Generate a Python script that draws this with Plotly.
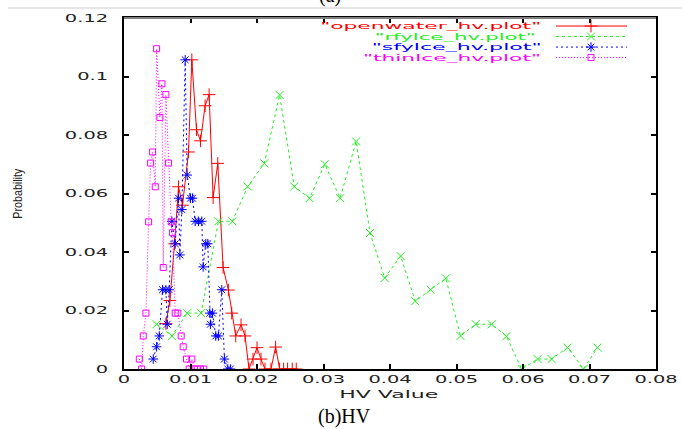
import json
import plotly.graph_objects as go

# ---- data ----
openwater_x = [0.0063, 0.0069, 0.0076, 0.0082, 0.0088, 0.0097, 0.0102, 0.0109, 0.0115, 0.0122,
               0.0128, 0.0134, 0.0141, 0.0149, 0.0157, 0.0162, 0.0168, 0.0176, 0.0182, 0.0188,
               0.0194, 0.0200, 0.0206, 0.0212, 0.0221, 0.0228, 0.0234, 0.0240, 0.0246, 0.0253, 0.0259]
openwater_y = [0.0155, 0.0234, 0.0428, 0.0623, 0.0560, 0.0742, 0.1057, 0.0818, 0.0780, 0.0900,
               0.0938, 0.0586, 0.0703, 0.0347, 0.0270, 0.0191, 0.0113, 0.0151, 0.0113, 0.0,
               0.0034, 0.0073, 0.0034, 0.0, 0.0, 0.0075, 0.0, 0.0, 0.0, 0.0, 0.0]

rfylce_x = [0.0049, 0.0072, 0.0095, 0.0116, 0.0142, 0.0163, 0.0186, 0.0211, 0.0234, 0.0256,
            0.0279, 0.0302, 0.0325, 0.0349, 0.0370, 0.0392, 0.0416, 0.0438, 0.0461, 0.0484,
            0.0506, 0.0529, 0.0553, 0.0575, 0.0598, 0.0622, 0.0643, 0.0667, 0.0691, 0.0712]
rfylce_y = [0.0153, 0.0113, 0.0191, 0.0191, 0.0505, 0.0505, 0.0624, 0.0703, 0.0937, 0.0624,
            0.0584, 0.0700, 0.0584, 0.0778, 0.0465, 0.0311, 0.0386, 0.0232, 0.0271, 0.0310,
            0.0113, 0.0153, 0.0153, 0.0112, 0.0, 0.0034, 0.0034, 0.0073, 0.0, 0.0073]

sfylce_x = [0.0044, 0.0049, 0.0053, 0.0058, 0.0063, 0.0065, 0.0068, 0.0072, 0.0077, 0.0082,
            0.0084, 0.0087, 0.0092, 0.0095, 0.0100, 0.0103, 0.0107, 0.0112, 0.0117, 0.0119,
            0.0123, 0.0126, 0.0129, 0.0130, 0.0133, 0.0138, 0.0142, 0.0147, 0.0151, 0.0156, 0.0160]
sfylce_y = [0.0034, 0.0076, 0.0113, 0.0271, 0.0271, 0.0153, 0.0271, 0.0505, 0.0428, 0.0584,
            0.0390, 0.0545, 0.1057, 0.0663, 0.0584, 0.0584, 0.0505, 0.0505, 0.0505, 0.0349,
            0.0428, 0.0428, 0.0191, 0.0153, 0.0191, 0.0113, 0.0113, 0.0271, 0.0034, 0.0, 0.0]

thinice_x = [0.0023, 0.00265, 0.0029, 0.0033, 0.0037, 0.0040, 0.0043, 0.0047, 0.0049, 0.0054,
             0.0057, 0.0059, 0.0063, 0.0067, 0.0071, 0.0073, 0.0077, 0.0081, 0.0086, 0.0089,
             0.0094, 0.0098, 0.0102, 0.0106, 0.0110, 0.0115, 0.0120]
thinice_y = [0.0034, 0.0, 0.0113, 0.0191, 0.0503, 0.0704, 0.0742, 0.0623, 0.1095, 0.0860,
             0.0975, 0.0347, 0.0938, 0.0704, 0.0503, 0.0466, 0.0191, 0.0191, 0.0113, 0.0076,
             0.0034, 0.0, 0.0034, 0.0, 0.0, 0.0, 0.0]

series_names = ['"openwater_hv.plot"', '"rfylce_hv.plot"', '"sfylce_hv.plot"', '"thinIce_hv.plot"']
series_colors = ['#ff0000', '#22ee22', '#0000ff', '#ff00ff']
series_dash = ['solid', '3px,3px', '2px,3px', '1px,2px']
series_symbol = ['cross-thin-open', 'x-thin-open', 'asterisk-open', 'square-open']
series_size = [9, 8, 8, 6]

x_ticks = [0, 0.01, 0.02, 0.03, 0.04, 0.05, 0.06, 0.07, 0.08]
x_ticktext = ['0', '0.01', '0.02', '0.03', '0.04', '0.05', '0.06', '0.07', '0.08']
y_ticks = [0, 0.02, 0.04, 0.06, 0.08, 0.10, 0.12]
y_ticktext = ['0', '0.02', '0.04', '0.06', '0.08', '0.1', '0.12']

xs = [openwater_x, rfylce_x, sfylce_x, thinice_x]
ys = [openwater_y, rfylce_y, sfylce_y, thinice_y]

fig = go.Figure()
for i in range(4):
    fig.add_trace(go.Scatter(
        x=xs[i], y=ys[i], mode='lines+markers', showlegend=False,
        line=dict(color=series_colors[i], width=1, dash=series_dash[i]),
        marker=dict(symbol=series_symbol[i], size=series_size[i], color=series_colors[i],
                    line=dict(color=series_colors[i], width=1)),
    ))

# manual gnuplot-style legend (text left, sample right)
TICK_FONT = dict(family='DejaVu Sans', size=10.5, color='#222222')
leg_y = [0.9771, 0.9472, 0.9172, 0.8873]
leg_cx = [0.5761, 0.6231, 0.6241, 0.6165]
leg_w = [221, 161, 170, 178]
annotations = []
shapes = []
for i in range(4):
    annotations.append(dict(xref='paper', yref='paper', x=leg_cx[i], y=leg_y[i], text=series_names[i],
                            showarrow=False, xanchor='center', yanchor='middle', borderpad=0,
                            font=dict(family='DejaVu Sans', size=9, color=series_colors[i])))
    shapes.append(dict(type='line', xref='paper', yref='paper', x0=0.812, x1=0.9455,
                       y0=leg_y[i], y1=leg_y[i],
                       line=dict(color=series_colors[i], width=1, dash=series_dash[i])))
    fig.add_trace(go.Scatter(
        x=[0.8778], y=[leg_y[i]], xaxis='x2', yaxis='y2', mode='markers', showlegend=False,
        marker=dict(symbol=series_symbol[i], size=series_size[i], color=series_colors[i],
                    line=dict(color=series_colors[i], width=1)),
    ))

annotations += [
    dict(xref='paper', yref='paper', x=-0.1992, y=0.4986, text='Probability', textangle=-90,
         showarrow=False, xanchor='center', yanchor='middle',
         font=dict(family='Liberation Sans Narrow, Liberation Sans', size=13, color='#222222')),
    dict(xref='paper', yref='paper', x=0.4972, y=-0.0734, text='HV Value', showarrow=False,
         xanchor='center', yanchor='middle', font=dict(family='DejaVu Sans', size=11, color='#222222')),
    dict(xref='paper', yref='paper', x=0.4145, y=-0.1356, text='(b)HV', showarrow=False,
         xanchor='center', yanchor='middle', font=dict(family='Liberation Serif', size=20, color='black')),
    dict(xref='paper', yref='paper', x=0.387, y=1.064, text='(a)', showarrow=False,
         xanchor='center', yanchor='middle', font=dict(family='Liberation Serif', size=20, color='black')),
]
shapes += [
    dict(type='line', xref='paper', yref='paper', x0=-0.218, x1=1.05, y0=1.0283, y1=1.0283,
         line=dict(color='#e6e6e6', width=2)),
    dict(type='line', xref='paper', yref='paper', x0=0, x1=1, y0=1, y1=1,
         line=dict(color='#808080', width=2)),
]

fig.update_layout(
    width=682, height=429,
    margin=dict(l=124, r=26, t=15, b=60),
    paper_bgcolor='white', plot_bgcolor='white',
    xaxis=dict(range=[0, 0.08], tickvals=x_ticks, ticktext=x_ticktext, ticks='inside', ticklen=5,
               tickwidth=1.5, tickcolor='black', showline=True, linecolor='black', linewidth=1.5,
               mirror='ticks', showgrid=False, zeroline=False, tickfont=TICK_FONT),
    yaxis=dict(range=[0, 0.12], tickvals=y_ticks, ticktext=y_ticktext, ticks='inside', ticklen=5,
               tickwidth=1.5, tickcolor='black', showline=True, linecolor='black', linewidth=1.5,
               mirror='ticks', showgrid=False, zeroline=False, tickfont=TICK_FONT,
               ticklabelstandoff=12),
    xaxis2=dict(overlaying='x', range=[0, 1], visible=False),
    yaxis2=dict(overlaying='y', range=[0, 1], visible=False),
    annotations=annotations, shapes=shapes,
)

# The reference uses a horizontally stretched typeface; widen the glyphs to the same text widths.
text_widths = {series_names[i]: leg_w[i] for i in range(4)}
text_widths['HV Value'] = 99
text_widths['Probability'] = 50
post_script = """
var gd = document.getElementById('{plot_id}');
var targets = %s;
function stretchTexts() {
  gd.querySelectorAll('g.xtick text, g.ytick text').forEach(function (t) {
    if (!t.dataset.w0) { t.dataset.w0 = t.getComputedTextLength(); }
    t.setAttribute('textLength', (parseFloat(t.dataset.w0) * 1.85).toFixed(2));
    t.setAttribute('lengthAdjust', 'spacingAndGlyphs');
  });
  gd.querySelectorAll('text.annotation-text').forEach(function (t) {
    var w = targets[t.textContent];
    if (w) { t.setAttribute('textLength', w); t.setAttribute('lengthAdjust', 'spacingAndGlyphs'); }
  });
}
stretchTexts();
""" % json.dumps(text_widths)

fig.write_html("out.html", post_script=post_script)
